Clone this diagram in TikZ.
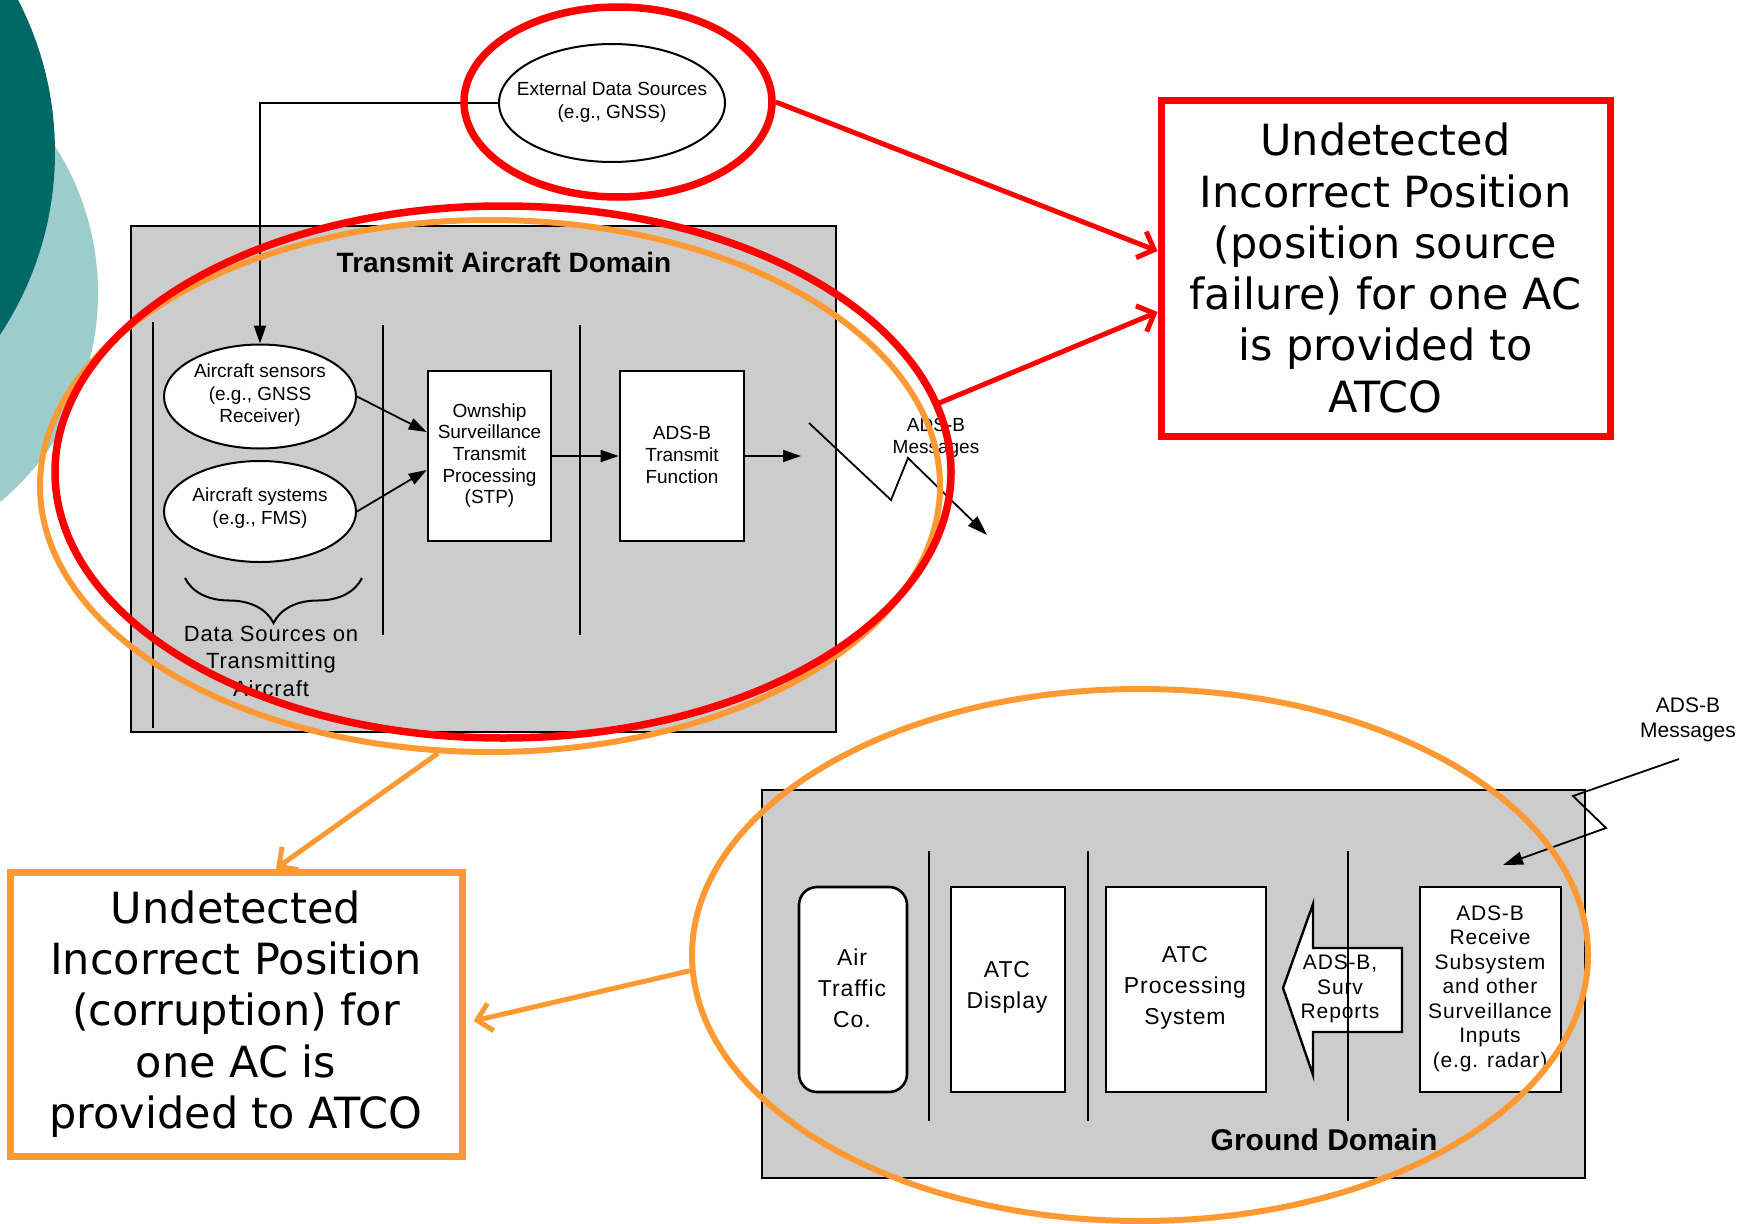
\documentclass[tikz,border=0pt]{standalone}
\usepackage{fontspec}
\setmainfont{Liberation Sans}
\newfontfamily\calloutfont{DejaVu Sans}
\newfontfamily\spacedfont[LetterSpace=4]{Liberation Sans}
\usetikzlibrary{arrows.meta,shapes.geometric,decorations.pathreplacing}

\definecolor{tealdark}{RGB}{0,104,102}
\definecolor{teallight}{RGB}{155,205,205}
\definecolor{panelgray}{RGB}{204,204,204}
\definecolor{hlred}{RGB}{255,0,0}
\definecolor{hlorange}{RGB}{255,153,51}

\begin{document}
\begin{tikzpicture}[x=1pt,y=-1pt,
  panel/.style={draw=black, line width=2.2pt, fill=panelgray, inner sep=0pt},
  block/.style={draw=black, line width=2.6pt, fill=white, inner sep=0pt},
  oval/.style={ellipse, draw=black, line width=2pt, fill=white, inner sep=0pt},
  tlbl/.style={align=center, inner sep=0pt, font=\fontsize{19}{22.5}\selectfont},
  glbl/.style={align=center, inner sep=0pt, font=\spacedfont\fontsize{23}{31}\selectfont},
  rlbl/.style={align=center, inner sep=0pt, font=\spacedfont\fontsize{21}{24.5}\selectfont},
  divider/.style={line width=1.6pt},
  flow/.style={line width=1.8pt, -{Triangle[length=18pt,width=12pt]}},
  radio/.style={line width=1.8pt, -{Triangle[length=20pt,width=13pt]}},
  ring/.style={ellipse, inner sep=0pt, draw},
  callout/.style={draw, line width=7pt, fill=white, inner sep=0pt, align=center,
    font=\calloutfont\fontsize{43}{51.3}\selectfont},
  hlarrow/.style={line width=5pt, -{Straight Barb[length=14pt,width=28pt]}},
]
\useasboundingbox (0,0) rectangle (1744,1223);

% slide decoration on the left edge
\begin{scope}
  \clip (0,0) rectangle (1744,1223);
  \fill[teallight] (-174,293) circle[radius=272];
  \fill[tealdark] (-276,152) circle[radius=331];
\end{scope}

% ---------------- transmit aircraft domain ----------------
\node[panel, minimum width=705pt, minimum height=506pt] (txdom) at (483.5,479) {};
\node[inner sep=0pt, font=\bfseries\fontsize{28}{32}\selectfont] (txtitle) at (504,262) {Transmit Aircraft Domain};

\draw[divider] (153,322) -- (153,728);
\draw[divider] (383,325) -- (383,635);
\draw[divider] (580,325) -- (580,635);

\node[oval, minimum width=226pt, minimum height=118pt] (ext) at (612,103) {};
\node[tlbl] (extlbl) at (612,102) {External Data Sources\\(e.g., GNSS)};

\node[oval, minimum width=192pt, minimum height=104pt] (sens) at (260,396.5) {};
\node[tlbl] (senslbl) at (260,395.5) {Aircraft sensors\\(e.g., GNSS\\Receiver)};

\node[oval, minimum width=192pt, minimum height=101pt] (sys) at (260,511.5) {};
\node[tlbl] (syslbl) at (260,508) {Aircraft systems\\(e.g., FMS)};

\node[block, minimum width=123pt, minimum height=170pt] (stp) at (489.5,456) {};
\node[tlbl, font=\fontsize{19}{21.7}\selectfont] (stplbl) at (489.5,455.5)
  {Ownship\\Surveillance\\Transmit\\Processing\\(STP)};

\node[block, minimum width=124pt, minimum height=170pt] (adsbtx) at (682,456) {};
\node[tlbl, font=\fontsize{19}{21.7}\selectfont] (adsbtxlbl) at (682,455) {ADS-B\\Transmit\\Function};

\draw[flow] (ext.west) -| (sens.north);
\draw[flow] (sens.east) -- ([yshift=24pt]stp.west);
\draw[flow] (sys.east) -- ([yshift=-14pt]stp.west);
\draw[flow] (stp.east) -- (adsbtx.west);
\coordinate (txout) at (801,456);
\draw[flow] (adsbtx.east) -- (txout);

\draw[line width=2pt, decorate, decoration={brace, mirror, amplitude=45pt}] (185,578) -- (362,578);
\node[align=center, inner sep=0pt, font=\spacedfont\fontsize{22}{27.5}\selectfont] (srclbl) at (271,661)
  {Data Sources on\\Transmitting\\Aircraft};

% transmitted messages
\coordinate (m1) at (809,423);
\coordinate (m2) at (891,500);
\coordinate (m3) at (908,458);
\coordinate (m4) at (987,535);
\draw[radio] (m1) -- (m2) -- (m3) -- (m4);
\node[tlbl] (txmsg) at (936,438) {ADS-B\\Messages};

% ---------------- ground domain ----------------
\node[panel, minimum width=823pt, minimum height=388pt] (gdom) at (1173.5,984) {};
\node[inner sep=0pt, font=\bfseries\fontsize{30}{34}\selectfont] (gtitle) at (1324,1140) {Ground Domain};

\node[block, rounded corners=18pt, minimum width=108pt, minimum height=205pt] (atco) at (853,989.5) {};
\node[glbl] (atcolbl) at (852,988) {Air\\Traffic\\Co.};

\node[block, minimum width=114pt, minimum height=205pt] (disp) at (1008,989.5) {};
\node[glbl] (displbl) at (1007,987.5) {ATC\\Display};

\node[block, minimum width=160pt, minimum height=205pt] (proc) at (1186,989.5) {};
\node[glbl] (proclbl) at (1185,987.5) {ATC\\Processing\\System};

\node[block, minimum width=141pt, minimum height=205pt] (recv) at (1490.5,989.5) {};
\node[rlbl] (recvlbl) at (1490,988.5)
  {ADS-B\\Receive\\Subsystem\\and other\\Surveillance\\Inputs\\(e.g. radar)};

% report arrow from the receive subsystem towards processing
\draw[line width=2.4pt, fill=white] (1283,988) -- (1313,904) -- (1313,948) -- (1402,948)
  -- (1402,1032) -- (1313,1032) -- (1313,1075) -- cycle;
\node[rlbl] (replbl) at (1340,989) {ADS-B,\\Surv\\Reports};

\draw[divider] (929,851) -- (929,1121);
\draw[divider] (1088,851) -- (1088,1121);
\draw[divider] (1348,851) -- (1348,1121);

% received messages
\node[align=center, inner sep=0pt, font=\fontsize{21}{25}\selectfont] (gmsg) at (1688,720) {ADS-B\\Messages};
\coordinate (g1) at (1679,759);
\coordinate (g2) at (1573,796);
\coordinate (g3) at (1606,828);
\coordinate (g4) at (1503,865);
\draw[radio] (g1) -- (g2) -- (g3) -- (g4);

% ---------------- highlight rings ----------------
\node[ring, draw=hlorange, line width=6pt, minimum width=900pt, minimum height=532pt] (txorange) at (490,486) {};
\node[ring, draw=hlred, line width=7.5pt, minimum width=896pt, minimum height=532pt] (txred) at (503,472) {};
\node[ring, draw=hlorange, line width=6pt, minimum width=896pt, minimum height=532pt] (gorange) at (1140,955) {};
\node[ring, draw=hlred, line width=7.5pt, minimum width=308pt, minimum height=190pt] (extred) at (618,102) {};

% ---------------- hazard callouts ----------------
\node[callout, draw=hlred, minimum width=449pt, minimum height=336pt] (redcall) at (1385.5,268)
  {Undetected\\Incorrect Position\\(position source\\failure) for one AC\\is provided to\\ATCO};
\node[callout, draw=hlorange, minimum width=452pt, minimum height=284pt] (orcall) at (236,1014)
  {Undetected\\Incorrect Position\\(corruption) for\\one AC is\\provided to ATCO};

\draw[hlred, hlarrow] (extred.east) -- ([yshift=17pt]redcall.west);
\draw[hlred, hlarrow] (txred.9) -- ([yshift=-44pt]redcall.west);
\draw[hlorange, hlarrow] (txorange.259) -- ([xshift=40pt]orcall.north);
\draw[hlorange, hlarrow] (gorange.182) -- ([xshift=8pt,yshift=-7pt]orcall.east);
\end{tikzpicture}
\end{document}
